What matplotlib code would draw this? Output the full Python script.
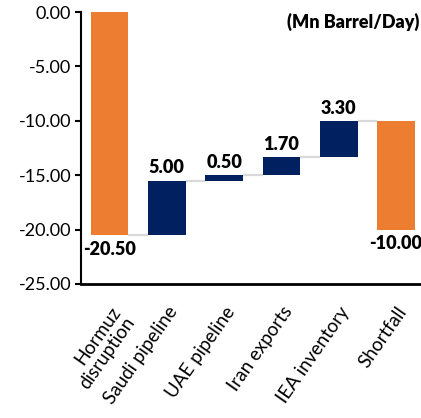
import matplotlib
matplotlib.use("Agg")
import matplotlib.pyplot as plt
import numpy as np

categories = ["Hormuz\ndisruption", "Saudi pipeline", "UAE pipeline",
              "Iran exports", "IEA inventory", "Shortfall"]
changes = [-20.50, 5.00, 0.50, 1.70, 3.30, -10.00]
is_total = [True, False, False, False, False, True]
yticks = [0, -5, -10, -15, -20, -25]

ORANGE = "#ED7D31"
NAVY = "#002060"
GREY = "#D9D9D9"

plt.rcParams["font.family"] = ["Lato", "DejaVu Sans"]

fig = plt.figure(figsize=(4.21, 4.18), dpi=100)
ax = fig.add_axes([0.192, 0.3206, 0.808, 0.6506])

# waterfall bases: totals start from zero, steps stack on the running level
bottoms, heights, colors = [], [], []
level = 0.0
for i, (v, tot) in enumerate(zip(changes, is_total)):
    bottoms.append(level)
    heights.append(v)
    level = level + v
    colors.append(ORANGE if tot else NAVY)

x = np.arange(len(categories))
w = 0.66
ax.bar(x, heights, bottom=bottoms, width=w, color=colors, zorder=3)

# connector lines between consecutive bars
ends = [b + h for b, h in zip(bottoms, heights)]
for i in range(len(x) - 1):
    ax.plot([x[i] + w / 2, x[i + 1] - w / 2], [ends[i], ends[i]], color=GREY,
            lw=1.6, zorder=2, solid_capstyle="butt")

# value labels
for i, (v, b, h) in enumerate(zip(changes, bottoms, heights)):
    top = max(b, b + h)
    low = min(b, b + h)
    if v >= 0:
        ax.annotate(f"{v:.2f}", (x[i], top), xytext=(0, 3),
                    textcoords="offset points", ha="center", va="bottom",
                    fontsize=13, fontweight="heavy", color="black",
                    annotation_clip=False)
    else:
        ax.annotate(f"{v:.2f}", (x[i], low), xytext=(0, -4),
                    textcoords="offset points", ha="center", va="top",
                    fontsize=13, fontweight="heavy", color="black",
                    annotation_clip=False)

ax.set_ylim(-25, 0)
ax.set_xlim(-0.5, 5.435)
ax.set_yticks(yticks)
ax.set_yticklabels([f"{t:.2f}" for t in yticks], fontsize=13)
ax.set_xticks(x)
ax.set_xticklabels(categories, rotation=55, ha="right", va="top",
                   rotation_mode="anchor", fontsize=13.5, linespacing=1.1)
ax.tick_params(axis="x", length=0, pad=14)
ax.tick_params(axis="y", length=4, width=1.5, direction="out", pad=3)
for s in ["top", "right"]:
    ax.spines[s].set_visible(False)
ax.spines["left"].set_linewidth(1.5)
ax.spines["bottom"].set_linewidth(2)

fig.text(0.997, 0.947, "(Mn Barrel/Day)", ha="right", va="center",
         fontsize=13, fontweight="heavy")

fig.savefig("out.png", dpi=100)
